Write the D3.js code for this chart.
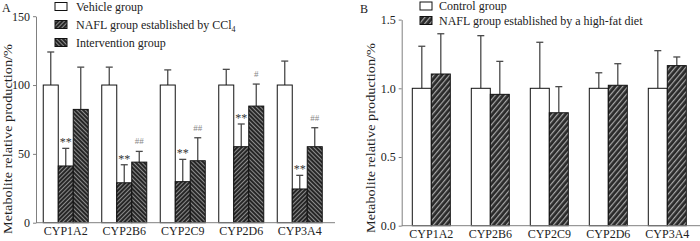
<!DOCTYPE html>
<html>
<head>
<meta charset="utf-8">
<script src="https://cdn.jsdelivr.net/npm/d3@7"></script>
<style>
  body { margin: 0; background: #fff; }
  svg text { font-family: "Liberation Serif", "Times New Roman", serif; fill: #222; }
</style>
</head>
<body>
<div id="chart"></div>
<script>
// gene categories
let genes = ["CYP1A2", "CYP2B6", "CYP2C9", "CYP2D6", "CYP3A4"]

// panel A values (%) and upper error
let vehicleA = [100, 100, 100, 100, 100]
let vehicleErrA = [24, 13, 11, 11.4, 17.4]
let naflA = [41.2, 29, 29.8, 55.2, 24.5]
let naflErrA = [12.8, 13.1, 16.2, 16.5, 9.9]
let intervA = [82.3, 44, 45, 84.7, 55.2]
let intervErrA = [30.7, 7.8, 16.7, 16, 13.8]
let naflSigA = ["**", "**", "**", "**", "**"]
let intervSigA = ["", "##", "##", "#", "##"]
let ticksA = [0, 50, 100, 150]

// panel B values (relative) and upper error
let controlB = [1, 1, 1, 1, 1]
let controlErrB = [0.306, 0.383, 0.335, 0.113, 0.274]
let naflB = [1.104, 0.956, 0.822, 1.022, 1.165]
let naflErrB = [0.293, 0.24, 0.19, 0.157, 0.063]
let ticksB = [0, 0.5, 1.0, 1.5]

let legendA = ["Vehicle group", "NAFL group established by CCl", "Intervention group"]
let legendB = ["Control group", "NAFL group established by a high-fat diet"]

let svg = d3.select("#chart").append("svg")
    .attr("width", 700)
    .attr("height", 241)

// hatch patterns
let defs = svg.append("defs")
function hatch(id, angle, size, bg, fg, w) {
    let p = defs.append("pattern")
        .attr("id", id)
        .attr("patternUnits", "userSpaceOnUse")
        .attr("width", size)
        .attr("height", size)
        .attr("patternTransform", "rotate(" + angle + ")")
    p.append("rect").attr("width", size).attr("height", size).attr("fill", bg)
    p.append("rect").attr("width", w).attr("height", size).attr("fill", fg)
}
hatch("hatchN", 45, 3, "#262626", "#8c8c8c", 1)
hatch("hatchI", -45, 3, "#262626", "#8c8c8c", 1)
hatch("hatchB", 40, 4, "#2a2a2a", "#a8a8a8", 1.2)

let axisColor = "#808080"
let errColor = "#4a4a4a"

function yAxis(g, y, x, ticks, fmt) {
    let ax = g.append("g")
        .attr("transform", "translate(" + x + ",0)")
        .call(d3.axisLeft(y).tickValues(ticks).tickSize(3).tickSizeOuter(0).tickPadding(3).tickFormat(fmt))
    ax.select(".domain").attr("stroke", axisColor)
    ax.selectAll(".tick line").attr("stroke", axisColor)
    ax.selectAll("text").style("font-size", "12px").attr("fill", "#222")
}

function xAxis(g, x, y0, x1, x2) {
    g.append("line")
        .attr("x1", x1).attr("x2", x2)
        .attr("y1", y0).attr("y2", y0)
        .attr("stroke", axisColor)
    let ax = g.append("g")
        .attr("transform", "translate(0," + y0 + ")")
        .call(d3.axisBottom(x).tickSize(0).tickPadding(4))
    ax.select(".domain").remove()
    ax.selectAll("text").style("font-size", "12px").attr("fill", "#222")
}

function bars(g, x, sub, y, key, vals, errs, fill, capW) {
    let grp = g.append("g")
    genes.forEach(function(gene, i) {
        let bx = x(gene) + sub(key)
        let bw = sub.bandwidth()
        let cx = bx + bw / 2
        grp.append("line")
            .attr("x1", cx).attr("x2", cx)
            .attr("y1", y(vals[i])).attr("y2", y(vals[i] + errs[i]))
            .attr("stroke", errColor).attr("stroke-width", 1.3)
        grp.append("line")
            .attr("x1", cx - capW / 2).attr("x2", cx + capW / 2)
            .attr("y1", y(vals[i] + errs[i])).attr("y2", y(vals[i] + errs[i]))
            .attr("stroke", errColor).attr("stroke-width", 1.3)
        grp.append("rect")
            .attr("x", bx)
            .attr("y", y(vals[i]))
            .attr("width", bw)
            .attr("height", y(0) - y(vals[i]))
            .attr("fill", fill)
            .attr("stroke", "#111")
            .attr("stroke-width", 1)
    })
    return grp
}

function sig(g, x, sub, y, key, vals, errs, marks, size, color, off) {
    genes.forEach(function(gene, i) {
        if (!marks[i]) return
        g.append("text")
            .attr("x", x(gene) + sub(key) + sub.bandwidth() / 2)
            .attr("y", y(vals[i] + errs[i]) - off)
            .attr("text-anchor", "middle")
            .style("font-size", size + "px")
            .style("fill", color)
            .text(marks[i])
    })
}

function yLabel(g, cx, cy) {
    g.append("text")
        .attr("transform", "translate(" + cx + "," + cy + ")rotate(-90)")
        .attr("text-anchor", "middle")
        .attr("textLength", 190)
        .attr("lengthAdjust", "spacingAndGlyphs")
        .style("font-size", "13.5px")
        .text("Metabolite relative production/%")
}

// ---------------- panel A ----------------
let gA = svg.append("g")
let yA = d3.scaleLinear().domain([0, 150]).range([222.7, 16.2])
let xA = d3.scaleBand().domain(genes).range([36.5, 329]).padding(0)
let subA = d3.scaleBand().domain(["v", "n", "i"]).range([6.75, 51.75]).padding(0)

bars(gA, xA, subA, yA, "v", vehicleA, vehicleErrA, "#fff", 7)
bars(gA, xA, subA, yA, "n", naflA, naflErrA, "url(#hatchN)", 7)
bars(gA, xA, subA, yA, "i", intervA, intervErrA, "url(#hatchI)", 7)
sig(gA, xA, subA, yA, "n", naflA, naflErrA, naflSigA, 12, "#333", 2)
sig(gA, xA, subA, yA, "i", intervA, intervErrA, intervSigA, 9, "#888", 7)

xAxis(gA, xA, 222.7, 36, 335)
yAxis(gA, yA, 36, ticksA, d3.format("d"))
yLabel(gA, 11.5, 139)

gA.append("text").attr("x", 2).attr("y", 12).style("font-size", "12px").text("A")

let legA = gA.append("g")
let legFillA = ["#fff", "url(#hatchN)", "url(#hatchI)"]
legendA.forEach(function(t, i) {
    let ly = 10.5 + i * 18
    legA.append("rect")
        .attr("x", 55).attr("y", ly - 8)
        .attr("width", 12).attr("height", 8)
        .attr("fill", legFillA[i]).attr("stroke", "#111")
    let tx = legA.append("text")
        .attr("x", 76).attr("y", ly)
        .style("font-size", "12px")
        .text(t)
    if (i == 1) {
        tx.append("tspan").attr("dy", 3).style("font-size", "8px").text("4")
    }
})

// ---------------- panel B ----------------
let gB = svg.append("g")
let yB = d3.scaleLinear().domain([0, 1.5]).range([225.7, 19.6])
let xB = d3.scaleBand().domain(genes).range([401.8, 696.8]).padding(0)
let subB = d3.scaleBand().domain(["c", "n"]).range([10.5, 48.5]).padding(0)

bars(gB, xB, subB, yB, "c", controlB, controlErrB, "#fff", 7)
bars(gB, xB, subB, yB, "n", naflB, naflErrB, "url(#hatchB)", 7)

xAxis(gB, xB, 225.7, 401.7, 700)
yAxis(gB, yB, 401.7, ticksB, d3.format(".1f"))
yLabel(gB, 375, 138)

gB.append("text").attr("x", 360).attr("y", 13).style("font-size", "12px").text("B")

let legB = gB.append("g")
let legFillB = ["#fff", "url(#hatchB)"]
legendB.forEach(function(t, i) {
    let ly = 10 + i * 14.5
    legB.append("rect")
        .attr("x", 420).attr("y", ly - 8)
        .attr("width", 12).attr("height", 8)
        .attr("fill", legFillB[i]).attr("stroke", "#111")
    legB.append("text")
        .attr("x", 439).attr("y", ly)
        .style("font-size", "12px")
        .text(t)
})
</script>
</body>
</html>
